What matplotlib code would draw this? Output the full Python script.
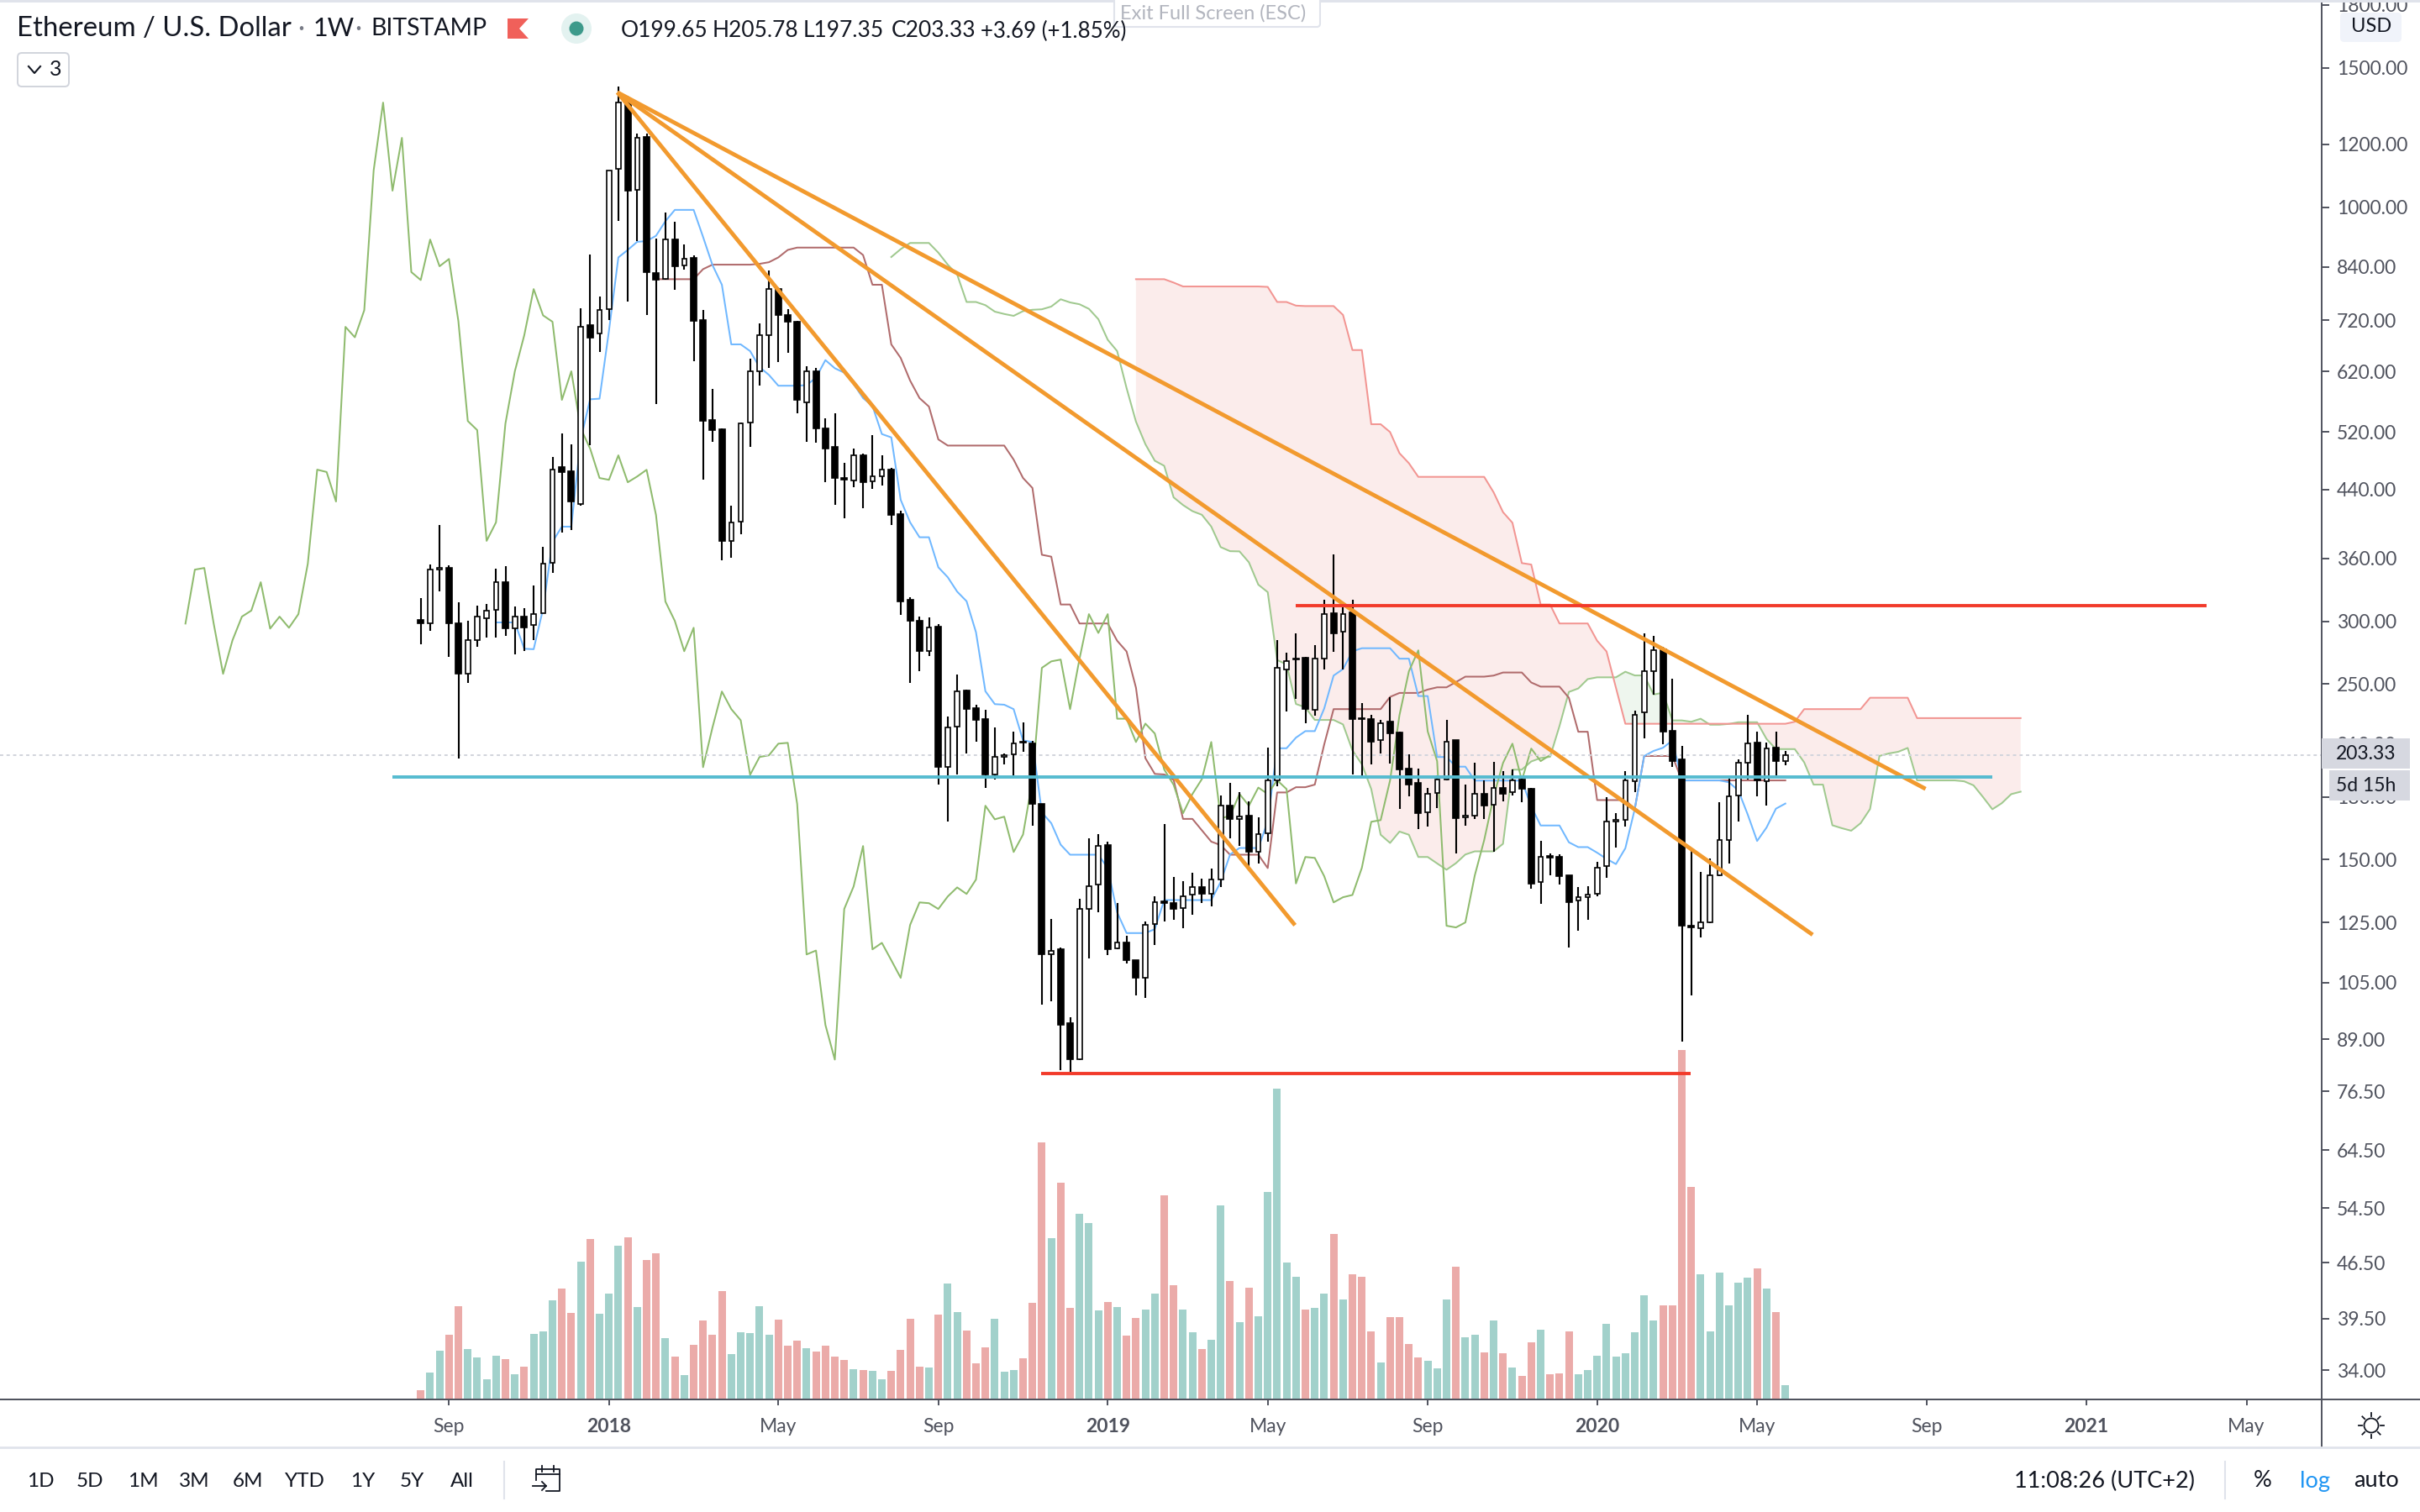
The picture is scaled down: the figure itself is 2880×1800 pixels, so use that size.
import numpy as np
import matplotlib
matplotlib.use("Agg")
import matplotlib.pyplot as plt
from matplotlib.patches import Polygon, Circle, FancyBboxPatch, Rectangle

plt.rcParams['font.family'] = ['Lato', 'DejaVu Sans']

open_ = [301,298,348.6,350.3,298,257.5,283.9,302.3,310.3,336.1,293.7,304.1,296.7,307.1,355.4,469.6,464,421.8,709.6,692,
743,1117,1358,1051,1227,825.7,811,910,845,862,720,538.5,524,379,400.7,534.6,620.5,689,788,730,
716.6,567,620.5,525.6,498,455,451.5,486,450.5,457,466,409.6,319,300.3,275,295.2,196.3,220.8,245.2,233,
225.7,192,202.2,203.7,211.2,210.2,176.4,114.1,115.6,93.2,83.9,130,139.4,156.5,115.9,117.8,112,106.4,124.4,132.8,
132.2,130.3,135.4,138.4,135.8,141.6,175.5,168.7,170.4,153.4,161.8,188.9,261,269,269.7,232,269,307,290.8,307.8,
226.3,226,212.3,224,217,195.4,187.4,172.2,182,189.2,212.3,169.6,170.7,181.6,175.9,185,182.4,189.6,184.2,140.5,
151.6,151.2,143.3,133.2,134.5,135.8,147.3,167.5,168.3,188.4,230,259.4,276.3,218.3,200.7,123.8,122.9,125,143.3,158.8,
180.7,198.7,210.7,188.4,207.7,199.65]
close = [298,348.6,350.3,298,257.5,283.9,304.1,309.5,336.1,293.7,304.1,294.4,306.3,354.6,466.2,463,424.9,706,685,741,
1113,1355,1049,1223,828,809,910,842,860,718,537,523,379,400,533,620.5,689,788,730,716.6,
571,620.5,525.6,495.6,455,452.6,486,449.4,457,466,408.6,317.7,300.3,275,294.4,196.3,220.3,244.6,232.4,225,
192,202.2,203.2,210.2,210.7,176.4,113.9,115.2,92.8,83.9,130,138.8,156.1,115.6,117.8,112,106.4,124.1,132.5,132.2,
130,134.8,138.4,135.8,141.6,175.5,168.7,170,153.4,161.4,188.9,262,267,268.4,232.4,269,306.3,290,306.3,226,
226,211.2,222.8,216.5,195,186.5,171.7,181.6,189.6,211.2,169.2,170.4,181.6,175.5,185,181.6,189,184.2,140,151.2,
150.8,143,132.5,134.5,135.4,146.5,167.5,168.3,188.9,228.4,259.4,275.7,217.8,199.8,123.8,123.2,125,143.3,158.8,180.2,
198.7,210.2,188.9,207.2,199.8,203.33]
high = [320.8,353.7,396.8,352.9,316.9,300.3,313.8,315.4,349.4,352,313,311.4,332.9,372.3,484,518,502,745,871,770.6,
1113,1420,1381,1238,1238,912.6,984,958,897,869,741,590,526,419.8,534.6,643.5,713,832,792,743,
718,629.6,626.6,541,549,476,495.6,488.4,515.3,486,468.5,413.6,322,304,303.3,297.4,227.4,256.9,245.8,235.2,
232,220.3,204.3,217.8,223.5,211.8,176.4,126.3,116.2,95,134,159.6,161.4,158,132.2,120.4,112,125.3,134.8,166.3,
142.6,140.9,144.3,141.9,146.1,180.7,187.4,182.4,177.7,169.6,207.7,283.9,274,289.5,270.4,279.7,319,364.3,312.3,319,
236.4,228.4,225,240.6,217.5,203.7,195.4,185,191.6,225,212.3,186.5,199,189,199.5,194,195,190,184.7,158.4,
152.7,152.3,143.3,138.4,138.8,149,180,171.7,194,231.3,289.5,287.4,278.6,253.7,208.7,154.2,144.7,150.4,177.2,190,
200.7,228.4,217.8,210.7,217.8,205.78]
low = [280.5,291.6,327.2,270.4,201.2,250.6,278.6,286,286,287.5,272.4,275,283.9,307,345.2,388,391,420,500,657,
720,961,760,906,730,564,809,786,834,639,452.6,505.3,358,361,386,498,595,626.6,637,654.7,
549,505,504,449.4,420.8,404.7,443,416.7,440.7,445,396.8,305.5,250.6,259.4,271,186.5,167.5,192,204.3,211.2,
185,189.6,197.9,191.6,205.2,165.5,98.4,99.3,81.4,81,83.7,112.5,128.7,113.7,115.6,110.9,101,100.4,117.2,125.3,
125.9,122.9,127.7,132.2,130.9,138.4,159.6,156.1,146.5,148.2,158,185.5,231,239.5,223,228,260.7,274.3,260.7,192,
190.5,198,204.3,198.3,173.8,180.2,163.9,165,174.2,188.7,152.7,165.5,168.7,168.7,153.4,177.7,180.7,177.2,137.8,131.9,
143.3,139.4,116.2,122,125.9,135,142.2,155.3,165,182.4,213.3,242.3,209.7,196.3,88.4,101,119.6,124.7,143,148.2,
167.5,189.6,180.2,175.5,191.6,197.35]
volume = [10,31,57,76,110,59,49,23,51,47,29,38,77,80,117,131,102,163,190,101,125,182,192,109,165,173,72,50,28,64,
93,76,128,53,79,78,110,76,94,63,69,60,56,63,50,46,35,34,33,23,33,58,95,38,37,100,137,103,81,42,
61,95,32,34,48,114,305,191,257,108,220,209,105,115,109,75,96,106,125,242,135,106,79,59,70,230,140,91,132,98,
246,369,162,145,106,108,125,196,118,148,145,80,43,97,97,65,49,45,36,118,157,73,76,55,93,54,37,27,67,82,
29,30,80,29,34,51,89,50,54,79,123,93,111,111,415,252,148,80,150,111,138,144,155,131,103,16]
volume_side = ("rttrrttttr" "trtttrrtrt" "ttrtrrtrtr" "rrrtttttrr" "rtrrrrtrtt" "rrrrtrttrr" "rtttrrrtrr"
               "tttrtrrttr" "rttrttrtrt" "ttttrttrtr" "rrtrrrrttt" "rttrtrtrrt" "rrrttttttt" "ttrrrrtttt" "ttrtrt")
# conversion line, from the ninth week on
tenkan = [299.0,299.0,299.0,277.0,276.6,311,378,395,395,509,572,573,698,864,883,904,906,920,960,992,992,992,917,845,798,671,671,658,628,614,595,595,595,596,609,641,626,618,598,574,561,517,512,427,400,383,383,351,341,327,318,290.6,244.8,235.8,235.4,232.4,212.2,211.2,172.1,166.8,156.7,152.2,152.2,152.2,152.2,146.4,128.7,121.2,121.2,121.2,122.6,133.4,133.4,133.4,133.4,133.4,133.4,140.6,152.3,155.2,155.2,155.2,167.7,207.4,207.4,213.9,218.0,218.0,232.8,256.2,261.1,274.9,277.4,277.4,277.4,277.4,269.1,269.1,241.4,241.4,202.2,202.2,196.6,196.6,188.8,188.8,188.8,188.8,188.8,188.8,175.1,165.7,165.7,165.7,157.8,155.6,155.6,153.1,150.4,148.1,155.1,173.8,202.8,205.8,207.7,212.2,188.9,188.9,188.9,188.9,188.9,187.9,183.5,171.1,158.4,164.7,174.0,176.6]
# base line, from week 26 on
kijun = [811,811,811,811,811,835,846,846,846,846,846,848,852,864,883,889,889,889,889,889,889,889,870,798,798,671,645,604,574,560,509,500,500,500,500,500,500,500,480,455,442,364,362,315,315,298.1,298.1,298.1,298.1,283.5,274.8,247.3,201.5,192.5,192.2,189.2,168.9,168.9,163.4,158.1,156.5,152.2,152.2,152.2,152.2,146.4,182.4,182.4,185.2,185.2,186.6,209.7,232.4,232.4,232.4,232.4,232.4,232.4,240.8,243.6,243.6,243.6,246.0,247.6,247.6,251.4,255.4,255.4,255.4,256.2,258.5,258.5,258.5,251.1,248.1,248.1,248.1,240.2,217.6,217.6,178.4,178.4,178.4,178.4,173.8,202.8,202.8,202.8,202.8,188.9,188.9,188.9,188.9,188.9,188.9,188.9,188.9,188.9,188.9,188.9,188.9]
# leading spans, as drawn from week 51 and week 77 on
span_a = [865,885,901,901,901,876,846,822,759,759,752,738,733,729,739,742,743,749,765,758,754,744,722,680,658,591,536,502,478.4,471.4,430.1,420.6,413.2,408.9,395.1,372.2,367.8,367.6,356.1,333.7,326.5,268.1,264.6,235.9,233.6,225.2,225.2,225.2,222.3,206.1,198.0,184.2,161.3,157.5,162.8,161.3,151.2,151.2,148.4,145.7,148.5,152.3,153.7,153.7,153.7,157.1,194.9,194.9,199.6,201.6,202.3,221.2,244.3,246.8,253.6,254.9,254.9,254.9,259.1,256.3,256.3,242.5,243.7,224.9,224.9,224.0,226.0,222.1,222.1,222.6,223.7,223.7,223.7,213.1,206.9,206.9,206.9,199.1,186.6,186.6,165.8,164.4,163.2,166.8,173.8,202.8,204.3,205.3,207.6,188.9,188.9,188.9,188.9,188.9,188.4,186.2,180.0,173.7,176.8,181.5,182.8]
span_b = [811,811,811,811,803,794,794,794,794,794,794,794,794,794,793,759,759,751,750,750,750,750,731,660,660,532,532,520,489.0,475.0,456.5,456.5,456.5,456.5,456.5,456.5,456.5,456.5,436.5,412.0,399.5,355.3,353.8,315.0,315.0,298.1,298.1,298.1,298.1,283.5,274.8,247.3,222.7,222.7,222.7,222.7,222.7,222.7,222.7,222.7,222.7,222.7,222.7,222.7,222.7,222.7,222.7,222.7,222.7,222.7,224.0,232.4,232.4,232.4,232.4,232.4,232.4,232.4,240.2,240.2,240.2,240.2,240.2,226.4,226.4,226.4,226.4,226.4,226.4,226.4,226.4,226.4,226.4,226.4,226.4]
price_ticks = [1800,1500,1200,1000,840,720,620,520,440,360,300,250,210,180,150,125,105,89,76.5,64.5,54.5,46.5,39.5,34]
month_ticks = [3,20,38,55,73,90,107,125,142,160,177,194]
month_labels = ['Sep','2018','May','Sep','2019','May','Sep','2020','May','Sep','2021','May']
trend_x = [[20.9,92.9],[20.9,147.9],[20.9,159.9]]
trend_y = [[1396,124.0],[1396,120.6],[1396,184.3]]
res_x, res_y = [93,189.8], [313.8,313.8]
sup_x, sup_y = [65.9,134.9], [80.55,80.55]
mid_x, mid_y = [-3,167], [190.7,190.7]
last_close = 203.33

o, c, h, l = map(lambda a: np.array(a, float), (open_, close, high, low))
n = len(c)
idx = np.arange(n)
tk, kj = np.array(tenkan), np.array(kijun)
sa, sb = np.array(span_a), np.array(span_b)
x_tk = np.arange(len(tk)) + 8
x_kj = np.arange(len(kj)) + 25
x_a = np.arange(len(sa)) + 50
x_b = np.arange(len(sb)) + 76
sa_cloud = sa[26:]

fig = plt.figure(figsize=(28.8, 18), dpi=100, facecolor='white')
P = [0, (1800-1666)/1800, 2763.4/2880, 1663/1800]
XL = ((0-500.7)/11.2, (2763.4-500.7)/11.2)
axv = fig.add_axes(P, zorder=0)
ax = fig.add_axes(P, zorder=1)
ax.patch.set_visible(False)
axv.set_xlim(*XL); axv.set_ylim(-1, 1662); axv.axis('off')
axv.bar(idx, volume, width=0.82, color=['#EBABA9' if s == 'r' else '#A2D1CB' for s in volume_side], linewidth=0)

ax.set_yscale('log')
ax.set_xlim(*XL); ax.set_ylim(31.24, 1812.6)
ax.fill_between(x_b, sa_cloud, sb, where=sb >= sa_cloud, interpolate=True, color='#FBECEB', lw=0, zorder=1)
ax.fill_between(x_b, sa_cloud, sb, where=sa_cloud > sb, interpolate=True, color='#EEF6EE', lw=0, zorder=1)
LW = 1.45
ax.plot(x_a, sa, color='#A0C98F', lw=LW, zorder=2)
ax.plot(x_b, sb, color='#F29592', lw=LW, zorder=2)
ax.plot(x_kj, kj, color='#B06B6C', lw=LW, zorder=2)
ax.plot(x_tk, tk, color='#70B8FF', lw=LW, zorder=2)
ax.plot(idx-25, c, color='#8FBB6E', lw=LW, zorder=2)
ax.axhline(last_close, color='#D1D4DC', lw=1.4, dashes=(2, 2), zorder=2)

ax.vlines(idx, l, h, color='black', lw=1.5, zorder=3)
up = c >= o
ax.bar(idx[up], np.abs(c-o)[up], bottom=np.minimum(o, c)[up], width=0.5, facecolor='white', edgecolor='black', linewidth=1.2, zorder=4)
ax.bar(idx[~up], np.abs(c-o)[~up], bottom=np.minimum(o, c)[~up], width=0.62, facecolor='black', edgecolor='black', linewidth=1.2, zorder=4)

for tx, ty in zip(trend_x, trend_y):
    ax.plot(tx, ty, color='#F29A2E', lw=3.5, zorder=5, solid_capstyle='butt')
ax.plot(res_x, res_y, color='#F23A2A', lw=2.8, zorder=5, solid_capstyle='butt')
ax.plot(sup_x, sup_y, color='#F23A2A', lw=2.8, zorder=5, solid_capstyle='butt')
ax.plot(mid_x, mid_y, color='#55BBD0', lw=2.8, zorder=5, solid_capstyle='butt')

GREY = '#50535E'
for s in ('top', 'left'):
    ax.spines[s].set_visible(False)
for s in ('right', 'bottom'):
    ax.spines[s].set_color(GREY); ax.spines[s].set_linewidth(1.4)
ax.yaxis.tick_right()
ax.set_yticks(price_ticks)
ax.set_yticklabels([f'{v:.2f}' for v in price_ticks], fontsize=16.5, color=GREY)
ax.minorticks_off()
ax.tick_params(axis='y', length=6.5, width=1.4, color=GREY, pad=6)
ax.set_xticks(month_ticks)
ax.set_xticklabels(month_labels, fontsize=16.5, color=GREY)
for t, s in zip(ax.get_xticklabels(), month_labels):
    if s.isdigit():
        t.set_fontweight('bold')
ax.tick_params(axis='x', length=5, width=1.4, color=GREY, pad=11)

ov = fig.add_axes([0, 0, 1, 1], zorder=5)
ov.patch.set_visible(False)
ov.set_xlim(0, 2880); ov.set_ylim(1800, 0); ov.axis('off')
DARK = '#131722'
def T(x, y, s, size=16, color=DARK, ha='center', **k):
    ov.text(x, y, s, fontsize=size, color=color, ha=ha, va='center', **k)
ov.add_patch(Rectangle((0, 0), 2880, 3, color='#E0E3EB', lw=0))
ov.plot([0, 2880], [1666, 1666], color=GREY, lw=1.4)
ov.plot([2763, 2763], [1666, 1722], color=GREY, lw=1.4)
ov.plot([0, 2880], [1722.5, 1722.5], color='#E0E3EB', lw=2)
T(20, 34, 'Ethereum / U.S. Dollar', 23.7, ha='left')
T(358, 34, '·', 22, color='#787B86')
T(373, 34, '1W', 22, ha='left')
T(426, 34, '·', 22, color='#787B86')
T(441, 34, 'BITSTAMP', 20.5, ha='left')
ov.add_patch(Polygon([(604, 22), (629, 22), (618, 34), (629, 46), (604, 46)], color='#F0605A', lw=0))
ov.add_patch(Circle((686, 34), 18, color='#E3F2F0', lw=0))
ov.add_patch(Circle((686, 34), 8.5, color='#3D9A8B', lw=0))
T(739, 37, 'O199.65', 19, ha='left')
T(848, 37, 'H205.78', 19, ha='left')
T(956, 37, 'L197.35', 19, ha='left')
T(1061, 37, 'C203.33', 19, ha='left')
T(1167, 37, '+3.69 (+1.85%)', 18.6, ha='left')
ov.add_patch(FancyBboxPatch((1326, -8), 245, 40, boxstyle='round,pad=0,rounding_size=4', fc='white', ec='#E0E3EB', lw=1.5))
T(1333, 16, 'Exit Full Screen (ESC)', 17, color='#B2B5BE', ha='left')
ov.add_patch(FancyBboxPatch((21, 63), 61, 40, boxstyle='round,pad=0,rounding_size=5', fc='white', ec='#D1D4DC', lw=1.4))
ov.plot([34, 41, 48], [79, 87, 79], color=DARK, lw=1.5)
T(66, 83, '3', 18)

ov.add_patch(FancyBboxPatch((2785, 15), 73, 35, boxstyle='round,pad=0,rounding_size=5', fc='#F0F3FA', ec='none'))
T(2822, 32, 'USD', 17)
ov.add_patch(Rectangle((2763, 879), 105, 36, color='#D6D8E0', lw=0))
T(2780, 897, '203.33', 16.5, ha='left')
ov.add_patch(Rectangle((2772, 917), 96, 36, color='#D6D8E0', lw=0))
T(2780, 935, '5d 15h', 16.5, ha='left')

for x, s in zip([48, 107, 170, 231, 295, 363, 432, 490, 550], ['1D', '5D', '1M', '3M', '6M', 'YTD', '1Y', '5Y', 'All']):
    T(x, 1763, s, 17.5)
ov.plot([600, 600], [1740, 1784], color='#E0E3EB', lw=1.5)
ov.plot([2648, 2648], [1740, 1784], color='#E0E3EB', lw=1.5)
ov.plot([638, 638, 666, 666, 650], [1762, 1749, 1749, 1775, 1775], color=DARK, lw=1.3)
ov.plot([638, 666], [1755, 1755], color=DARK, lw=1.3)
ov.plot([645, 645], [1745, 1752], color=DARK, lw=1.3)
ov.plot([659, 659], [1745, 1752], color=DARK, lw=1.3)
ov.plot([634, 650], [1769, 1769], color=DARK, lw=1.3)
ov.plot([645, 650, 645], [1764, 1769, 1774], color=DARK, lw=1.3)
T(2397, 1763, '11:08:26 (UTC+2)', 19.5, ha='left')
T(2693, 1763, '%', 19.5)
T(2755, 1763, 'log', 19.5, color='#2196F3')
T(2828, 1763, 'auto', 19.5)
ov.add_patch(Circle((2822, 1697), 8.5, fc='none', ec=DARK, lw=1.3))
for a in np.arange(8)*np.pi/4:
    ov.plot([2822+11*np.cos(a), 2822+15*np.cos(a)], [1697+11*np.sin(a), 1697+15*np.sin(a)], color=DARK, lw=1.3)

fig.savefig('out.png', dpi=100)
